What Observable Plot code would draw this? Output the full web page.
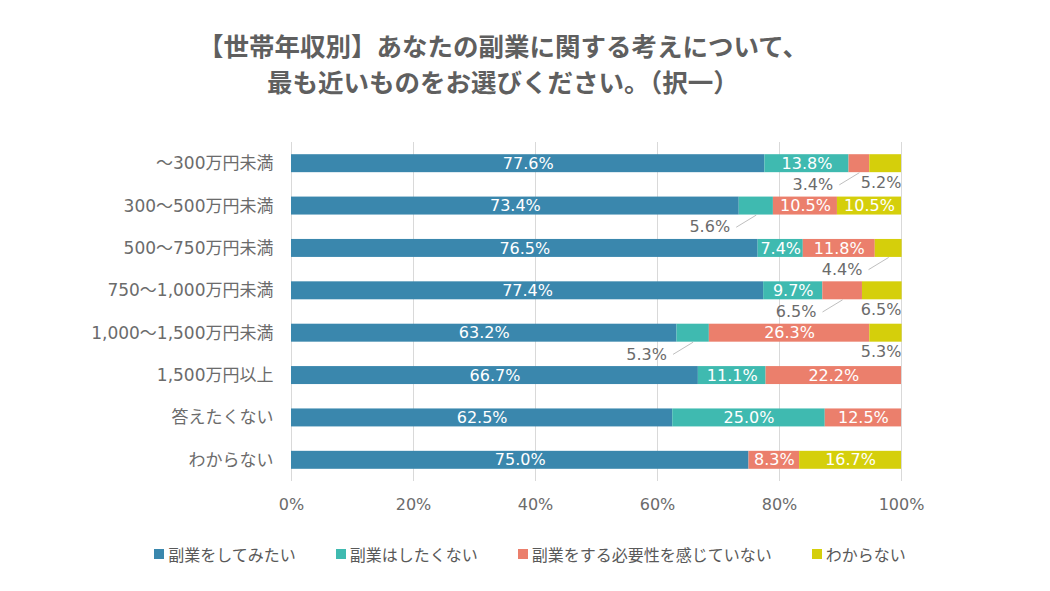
<!DOCTYPE html>
<html>
<head>
<meta charset="utf-8">
<script src="https://cdn.jsdelivr.net/npm/d3@7"></script>
<script src="https://cdn.jsdelivr.net/npm/@observablehq/plot@0.6"></script>
<style>
  body { margin: 0; background: #fff; font-family: "Noto Sans CJK JP", "Noto Sans", sans-serif; }
  #wrap { width: 1050px; height: 591px; position: relative; overflow: hidden; }
  #title { height: 118px; box-sizing: border-box; padding-top: 27px; text-align: center; color: #5f5f5f;
           font-weight: bold; font-size: 25.5px; line-height: 36px; padding-right: 44px; }
  #legend { display: flex; justify-content: center; gap: 40px; margin-top: 16px; color: #595959; font-size: 16px;
            padding-left: 10px; }
  .item { display: flex; align-items: center; }
  .sw { width: 10px; height: 10px; margin-right: 4px; }
</style>
</head>
<body>
<div id="wrap">
  <div id="title">【世帯年収別】あなたの副業に関する考えについて、<br>最も近いものをお選びください。（択一）</div>
  <div id="chart"></div>
  <div id="legend"></div>
</div>
<script>
const categories = ["～300万円未満", "300～500万円未満", "500～750万円未満", "750～1,000万円未満",
  "1,000～1,500万円未満", "1,500万円以上", "答えたくない", "わからない"];
const seriesNames = ["副業をしてみたい", "副業はしたくない", "副業をする必要性を感じていない", "わからない"];
const seriesColors = ["#3a87ad", "#3fbab0", "#eb7f6c", "#d5cf0b"];
const wantSide = [77.6, 73.4, 76.5, 77.4, 63.2, 66.7, 62.5, 75.0];
const notWant = [13.8, 5.6, 7.4, 9.7, 5.3, 11.1, 25.0, 0];
const noNeed = [3.4, 10.5, 11.8, 6.5, 26.3, 22.2, 12.5, 8.3];
const unknown = [5.2, 10.5, 4.4, 6.5, 5.3, 0, 0, 16.7];
const xTicks = [0, 20, 40, 60, 80, 100];
// outside labels: [row, series index]
const leaderLabels = [[0, 2], [1, 1], [2, 3], [3, 2], [4, 1]];
const edgeLabels = [[0, 3], [3, 3], [4, 3]];

const seriesValues = [wantSide, notWant, noNeed, unknown];
const rows = [];
categories.forEach((c, i) => {
  let acc = 0;
  seriesValues.forEach((vals, s) => {
    const v = vals[i];
    rows.push({row: i, s, name: seriesNames[s], value: v, x1: acc, x2: acc + v, mid: acc + v / 2});
    acc += v;
  });
});
const cell = (r, s) => rows.find(d => d.row === r && d.s === s);
const bars = rows.filter(d => d.value > 0);
const inside = bars.filter(d => d.value >= 7);
const leaders = leaderLabels.map(([r, s]) => cell(r, s));
const edges = edgeLabels.map(([r, s]) => cell(r, s));
const half = 0.212;
const fmt = v => v.toFixed(1) + "%";
const fs = 16;

const chart = Plot.plot({
  width: 1050,
  height: 408,
  marginLeft: 291,
  marginRight: 149,
  marginTop: 24,
  marginBottom: 45,
  style: {fontFamily: '"DejaVu Sans", "Noto Sans CJK JP", sans-serif', fontSize: fs + "px", color: "#666", background: "#fff"},
  x: {domain: [0, 100]},
  y: {domain: [-0.5, 7.5], reverse: true},
  color: {domain: seriesNames, range: seriesColors},
  marks: [
    Plot.ruleX(xTicks, {stroke: "#d9d9d9", strokeWidth: 1}),
    Plot.rectX(bars, {x1: "x1", x2: "x2", y1: d => d.row - half, y2: d => d.row + half, fill: "name"}),
    Plot.text(inside, {x: "mid", y: "row", text: d => fmt(d.value), fill: "white", fontSize: fs}),
    Plot.link(leaders, {x1: "mid", y1: d => d.row + half, x2: d => d.mid - 3.3, y2: d => d.row + 0.5,
      stroke: "#bfbfbf", strokeWidth: 1}),
    Plot.text(leaders, {x: d => d.mid - 4.3, y: d => d.row + 0.5, text: d => fmt(d.value),
      textAnchor: "end", fill: "#6b6b6b", fontSize: fs}),
    Plot.text(edges, {x: 100, y: d => d.row + 0.45, text: d => fmt(d.value),
      textAnchor: "end", fill: "#6b6b6b", fontSize: fs}),
    Plot.axisY(d3.range(categories.length), {tickFormat: i => categories[i], tickSize: 0, tickPadding: 18,
      fontSize: 17, fill: "#6b6b6b", label: null}),
    Plot.axisX(xTicks, {tickFormat: d => d + "%", tickSize: 0, tickPadding: 17, fontSize: fs, fill: "#6b6b6b", label: null})
  ]
});
document.getElementById("chart").appendChild(chart);

const legend = document.getElementById("legend");
seriesNames.forEach((n, i) => {
  const it = document.createElement("div");
  it.className = "item";
  it.innerHTML = `<span class="sw" style="background:${seriesColors[i]}"></span><span>${n}</span>`;
  legend.appendChild(it);
});
</script>
</body>
</html>
